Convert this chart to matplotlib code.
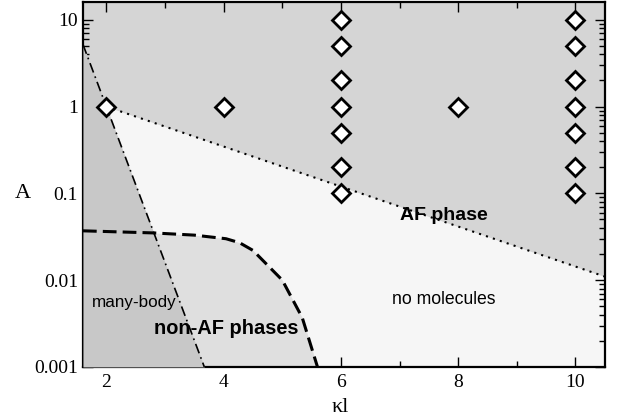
import numpy as np
import matplotlib
matplotlib.use("Agg")
import matplotlib.pyplot as plt
from matplotlib.ticker import FixedLocator, FixedFormatter, LogLocator, NullFormatter

# simulation points (kl, A)
pts_k = [2, 4, 6, 6, 6, 6, 6, 6, 6, 8, 10, 10, 10, 10, 10, 10, 10]
pts_A = [1, 1, 0.1, 0.2, 0.5, 1, 2, 5, 10, 1, 0.1, 0.2, 0.5, 1, 2, 5, 10]

# AF boundary (dotted)
af_k = [2, 10.5]
af_A = [1, 0.011]

# many-body boundary (dash-dot)
mb_k = [1.6, 3.67]
mb_A = [5.2, 0.001]

# non-AF boundary (dashed)
naf_k = [1.6, 2.8, 3.5, 4.04, 4.27, 4.5, 5.0, 5.34, 5.6]
naf_A = [0.037, 0.035, 0.033, 0.030, 0.027, 0.022, 0.01, 0.0037, 0.001]

xmin, xmax = 1.6, 10.5
ymin, ymax = 0.001, 16

plt.rcParams['font.family'] = ['Liberation Serif', 'DejaVu Serif']
fig = plt.figure(figsize=(6.19, 4.16), dpi=100)
ax = fig.add_axes([0.134, 0.118, 0.843, 0.877])
ax.set_facecolor("#f6f6f6")
ax.set_yscale("log")

# upper grey region above the dotted line
ax.fill_between([xmin] + af_k, [af_A[0]] + af_A, ymax, color="#d5d5d5", lw=0, zorder=1)
# non-AF region below dashed line
ax.fill_between(naf_k, ymin, naf_A, color="#dfdfdf", lw=0, zorder=2)
# many-body region below the dash-dot line
ax.fill_between(mb_k, ymin, mb_A, color="#c8c8c8", lw=0, zorder=3)

ax.plot(af_k, af_A, color="black", ls=(0, (1, 2.5)), lw=1.5, zorder=4)
ax.plot(mb_k, mb_A, color="black", ls=(0, (6, 2.5, 1, 2.5)), lw=1.2, zorder=4)
ax.plot(naf_k, naf_A, color="black", ls=(0, (4.5, 2)), lw=2.2, zorder=4)

ax.plot(pts_k, pts_A, ls="none", marker="D", ms=9, mfc="white", mec="black", mew=2, zorder=5,
        clip_on=False)

ax.set_xlim(xmin, xmax)
ax.set_ylim(ymin, ymax)

ax.xaxis.set_major_locator(FixedLocator([2, 4, 6, 8, 10]))
ax.xaxis.set_minor_locator(FixedLocator([3, 5, 7, 9]))
ax.yaxis.set_major_locator(FixedLocator([0.001, 0.01, 0.1, 1, 10]))
ax.yaxis.set_major_formatter(FixedFormatter(["0.001", "0.01", "0.1", "1", "10"]))
ax.yaxis.set_minor_locator(LogLocator(base=10, subs=np.arange(2, 10)))
ax.yaxis.set_minor_formatter(NullFormatter())
ax.tick_params(which="both", direction="in", top=True, right=True, labelsize=14, width=1)
ax.tick_params(which="major", length=7)
ax.tick_params(which="minor", length=4)
ax.tick_params(axis="x", pad=5)
for s in ax.spines.values():
    s.set_linewidth(1.6)

ax.set_xlabel("κl", fontsize=16)
ax.xaxis.set_label_coords(0.494, -0.085)
ax.set_ylabel("A", fontsize=16, rotation=0)
ax.yaxis.set_label_coords(-0.115, 0.45)

sans = ['Liberation Sans', 'DejaVu Sans']
ax.text(1.75, 0.0055, "many-body", family=sans, fontsize=12.3, zorder=6, va="center")
ax.text(2.82, 0.0028, "non-AF phases", family=sans, fontsize=14.4, fontweight="bold", zorder=6, va="center")
ax.text(7.01, 0.055, "AF phase", family=sans, fontsize=14, fontweight="bold", zorder=6, va="center")
ax.text(7.76, 0.006, "no molecules", family=sans, fontsize=12.7, zorder=6, ha="center", va="center")

fig.savefig("out.png", dpi=100)
